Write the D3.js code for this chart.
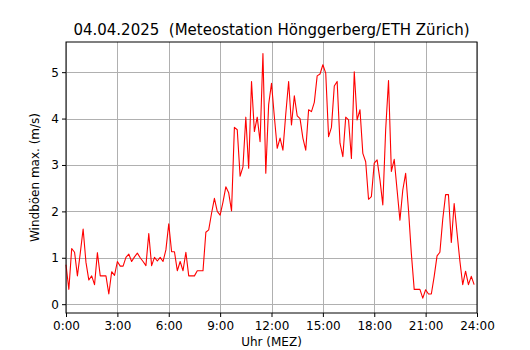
<!DOCTYPE html>
<html><head><meta charset="utf-8">
<script src="https://cdn.jsdelivr.net/npm/d3@7"></script>
<style>body{margin:0;background:#fff}svg{display:block}text{font-family:"DejaVu Sans",sans-serif}</style>
</head><body>
<svg id="c" width="530" height="350"></svg>
<script>
const titleText = "04.04.2025  (Meteostation Hönggerberg/ETH Zürich)";
const xLabel = "Uhr (MEZ)";
const yLabel = "Windböen max. (m/s)";
const xTickHours = [0, 3, 6, 9, 12, 15, 18, 21, 24];
const xTickLabels = ["0:00", "3:00", "6:00", "9:00", "12:00", "15:00", "18:00", "21:00", "24:00"];
const yTicks = [0, 1, 2, 3, 4, 5];
// 10-minute gust values (m/s), 0:00 .. 23:50
const gusts = [
 0.85,0.32,1.2,1.12,0.61,1.1,1.62,0.9,0.52,0.61,0.42,1.11,
 0.61,0.61,0.61,0.22,0.7,0.62,0.92,0.82,0.82,1.01,1.08,0.92,
 1.02,1.1,1.0,0.92,0.83,1.52,0.83,1.01,0.93,1.01,0.92,1.17,
 1.73,1.13,1.13,0.72,0.92,0.72,1.12,0.61,0.61,0.61,0.72,0.72,
 0.72,1.55,1.6,1.96,2.28,2.0,1.92,2.2,2.53,2.4,2.01,3.81,
 3.76,2.76,2.96,4.03,2.93,4.8,3.72,4.03,3.5,5.4,2.82,4.3,
 4.76,4.04,3.36,3.58,3.32,4.1,4.8,3.86,4.49,4.06,4.0,3.58,
 3.32,4.19,4.15,4.35,4.92,4.96,5.16,4.98,3.61,3.81,4.7,4.8,
 3.47,3.18,4.03,3.97,3.14,5.01,3.97,4.19,3.25,3.07,2.26,2.32,
 3.04,3.11,2.68,2.14,3.76,4.82,2.86,3.12,2.46,1.81,2.46,2.82,
 2.03,1.09,0.32,0.32,0.32,0.13,0.31,0.22,0.22,0.6,1.04,1.12,
 1.83,2.36,2.36,1.33,2.17,1.54,0.93,0.42,0.71,0.42,0.6,0.42
];
const hours = gusts.map((_, i) => i / 6);

const svg = d3.select("#c");
const L = 66, R = 477, T = 42, B = 313;
const x = d3.scaleLinear().domain([0, 24]).range([L, R]);
const y = d3.scaleLinear().domain([-0.19, 5.65]).range([B, T]);

// grid
svg.append("g").selectAll("line").data(xTickHours).join("line")
  .attr("x1", d => Math.round(x(d)) + 0.5).attr("x2", d => Math.round(x(d)) + 0.5)
  .attr("y1", T).attr("y2", B).attr("stroke", "#b0b0b0").attr("stroke-width", 1);
svg.append("g").selectAll("line").data(yTicks).join("line")
  .attr("y1", d => Math.round(y(d)) + 0.5).attr("y2", d => Math.round(y(d)) + 0.5)
  .attr("x1", L).attr("x2", R).attr("stroke", "#b0b0b0").attr("stroke-width", 1);

// line
svg.append("path").datum(gusts)
  .attr("fill", "none").attr("stroke", "#ff0000").attr("stroke-width", 1.1)
  .attr("stroke-linejoin", "round")
  .attr("d", d3.line().x((d, i) => x(hours[i])).y(d => y(d)));

// axes
const xAxis = d3.axisBottom(x).tickValues(xTickHours).tickFormat((d, i) => xTickLabels[i]).tickSize(4).tickSizeOuter(0);
const yAxis = d3.axisLeft(y).tickValues(yTicks).tickFormat(d3.format("d")).tickSize(4).tickSizeOuter(0);
const gx = svg.append("g").attr("transform", `translate(0,${B})`).call(xAxis);
const gy = svg.append("g").attr("transform", `translate(${L},0)`).call(yAxis);
[gx, gy].forEach(g => {
  g.select(".domain").remove();
  g.selectAll("line").attr("stroke", "#000");
  g.selectAll("text").attr("fill", "#000").style("font-size", "12px").style("font-family", "DejaVu Sans");
});
gx.selectAll("text").attr("dy", "0.71em").attr("y", 8);
gy.selectAll("text").attr("x", -7);

// frame
svg.append("rect").attr("x", L).attr("y", T).attr("width", R - L).attr("height", B - T)
  .attr("fill", "none").attr("stroke", "#000").attr("stroke-width", 1);

// labels
svg.append("text").attr("x", (L + R) / 2).attr("y", 35).attr("text-anchor", "middle")
  .attr("xml:space", "preserve").style("white-space", "pre")
  .style("font-size", "15px").text(titleText);
svg.append("text").attr("x", (L + R) / 2).attr("y", 346).attr("text-anchor", "middle")
  .style("font-size", "12px").text(xLabel);
svg.append("text").attr("transform", `translate(39,${(T + B) / 2}) rotate(-90)`).attr("text-anchor", "middle")
  .style("font-size", "12px").text(yLabel);
</script>
</body></html>
